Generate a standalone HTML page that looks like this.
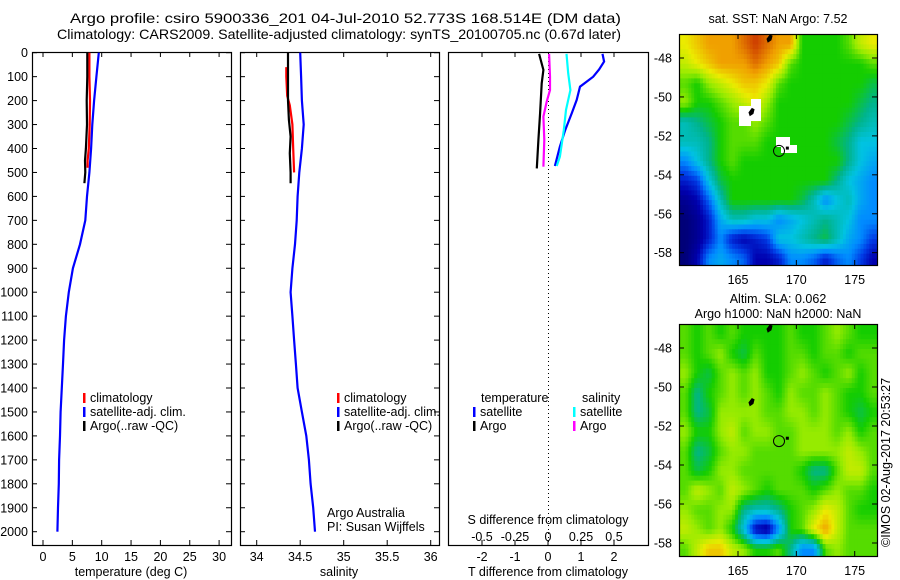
<!DOCTYPE html>
<html><head><meta charset="utf-8"><style>
html,body{margin:0;padding:0;background:#fff;}
svg{display:block;font-family:"Liberation Sans",sans-serif;}
text{font-size:12.5px;fill:#000;}
</style></head><body>
<svg id="fig" width="900" height="580" viewBox="0 0 900 580" xmlns="http://www.w3.org/2000/svg">
<defs>
<clipPath id="clipMap1"><rect x="679" y="34" width="198" height="231"/></clipPath>
<clipPath id="clipMap2"><rect x="679" y="324" width="198" height="232"/></clipPath>
</defs>
<text x="70" y="23" style="font-size:14px" textLength="551" lengthAdjust="spacingAndGlyphs">Argo profile: csiro 5900336_201 04-Jul-2010 52.773S 168.514E (DM data)</text>
<text x="57" y="39" style="font-size:14px" textLength="564" lengthAdjust="spacingAndGlyphs">Climatology: CARS2009. Satellite-adjusted climatology: synTS_20100705.nc (0.67d later)</text>
<text x="778" y="23" text-anchor="middle">sat. SST: NaN Argo: 7.52</text>
<text x="778" y="303" text-anchor="middle">Altim. SLA: 0.062</text>
<text x="778" y="318" text-anchor="middle">Argo h1000: NaN h2000: NaN</text>
<text transform="translate(890,547) rotate(-90)">©IMOS 02-Aug-2017 20:53:27</text>
<g id="layer"></g>
</svg>
<script>
// ---- profile data ----
const depthsSat = [0,100,200,300,400,500,600,700,800,900,1000,1100,1200,1300,1400,1500,1600,1700,1800,1900,2000];
const tempSat = [9.5,9.1,8.7,8.4,8.2,7.9,7.5,7.2,6.3,5.1,4.4,3.9,3.6,3.4,3.2,3.0,2.9,2.75,2.7,2.55,2.45];
const salSat = [34.50,34.51,34.52,34.54,34.52,34.49,34.47,34.46,34.44,34.41,34.39,34.41,34.43,34.45,34.47,34.52,34.57,34.60,34.62,34.65,34.67];
const depthsClimT = [0,100,200,300,400,450,480];
const tempClim = [7.9,7.9,8.0,7.95,7.8,7.6,7.6];
const depthsArgoT = [0,100,200,300,400,450,500,545];
const tempArgo = [7.55,7.55,7.45,7.5,7.3,7.15,7.2,7.05];
const depthsClimS = [60,100,180,220,300,400,500];
const salClim = [34.34,34.34,34.35,34.38,34.41,34.42,34.43];
const depthsArgoS = [0,100,200,280,350,420,500,545];
const salArgo = [34.36,34.36,34.36,34.37,34.39,34.38,34.39,34.39];
const depthsDT = [5,37,70,100,142,197,252,323,392,473];
const dTsat = [1.65,1.70,1.55,1.37,0.97,0.87,0.72,0.52,0.36,0.21];
const depthsDS = [5,86,156,239,323,434,473];
const dSsat = [0.14,0.153,0.17,0.136,0.12,0.09,0.066];
const depthsDA = [5,72,128,252,364,483];
const dTargo = [-0.27,-0.14,-0.19,-0.24,-0.29,-0.34];
const depthsDSA = [5,100,156,204,267,364,476];
const dSargo = [0.008,0.015,0.015,-0.01,-0.035,-0.028,-0.035];
const depthTicks = [0,100,200,300,400,500,600,700,800,900,1000,1100,1200,1300,1400,1500,1600,1700,1800,1900,2000];
const tempTicks = [0,5,10,15,20,25,30];
const salTicks = ["34","34.5","35","35.5","36"];
const dTTicks = ["-2","-1","0","1","2"];
const dSTicks = ["-0.5","-0.25","0","0.25","0.5"];
// ---- map data (colour index 0..10, rows from -46.8 lat downward 1deg, cols lon 160..176) ----
const mapLons = [160,161,162,163,164,165,166,167,168,169,170,171,172,173,174,175,176];
const latTicks = [-48,-50,-52,-54,-56,-58];
const lonTicks = [165,170,175];
const sstGrid = [
[8,8.5,9,9,9,9.5,10,9.5,9,9,6,6,6,6,6.5,7.5,8],
[7.5,8,8.5,9,9,9,9.5,9,8.5,6.5,6,6,6,6,6,6,6.5],
[6.5,6,7,7.5,8,8.5,8.5,8,6.5,6,6,6,6,6,6,6,5.5],
[7,6,6,6.5,7,7.5,8,7,6,6,6,6,6,6,6,5.5,5],
[4.5,5,5.5,6,6.5,6.5,7,6.5,6,6,6,6,6,6,5.5,5,4.5],
[4.5,4.5,5,6,6.5,6.5,6.5,6,6,6,6,6,6,5.5,5,4,4],
[3,4,5,6,6.5,6,6,6,6,6,6,6,6,6,5,4,3.5],
[1.5,2,4,5.5,6,6,6,6,6,6,6,6,6,5,4,3.5,3],
[0.5,1,2.5,4.5,6,6,6,6,6,6,5.5,4.5,3,4,4.5,3.5,3],
[0,0.5,1.5,3.5,4.5,4.5,4,4,3,3.5,4,4.5,5,4.5,4,3,3],
[0,0.5,1.5,3,1.5,1,1.5,2,4,4,4.5,5,5.5,4.5,3.5,3,2],
[0,1,3,3.5,3,2.5,1,1,1.5,3,3,2.5,1.5,2.5,3,2,1]];
const slaGrid = [
[6.5,6,6.5,6,6.5,6,6,6,6,6.5,6,6,6.5,7,6.5,6,6],
[6.5,6,6.5,7,6,5.5,6.5,6,6,6.5,6.5,6,6.5,6.5,6,6.5,6.5],
[7,6,5.5,6.5,7,6.5,7,6,6,6.5,7,6.5,6,6.5,7,6,6.5],
[6.5,5,6,6.5,7,6.5,7,6.5,6,7,6.5,6.5,7,6.5,6,6,6.5],
[6.5,5,5.5,7,7,7,7,6.5,6.5,7,7,6.5,7,6.5,6,5.5,6],
[7,6,6,7,7.5,6.5,7,7,6.5,6.5,7,7,7,6.5,7,6,6.5],
[6.5,5,5.5,6.5,7,7,6.5,6.5,6.5,6.5,7,7,7,7,7.5,7,6.5],
[6.5,5.5,6,7,7,6.5,6.5,6.5,6.5,6.5,6,5,5,6.5,7.5,7.5,6.5],
[6.5,7.5,7,6.5,7.5,7,6.5,6,6.5,6.5,6.5,6,6.5,7,6.5,6.5,6],
[7,6.5,6.5,7,7,5,4.5,4.5,5,6,6.5,7,8,7.5,6.5,6,6],
[7.5,7,6.5,7,6,4,1,0.5,3,6,6.5,8,9,7.5,6.5,6.5,6.5],
[6.5,7.5,8.5,8.5,7.5,7,6,6,6.5,5,3,3,6.5,7,6.5,6.5,6.5]];

const NS = "http://www.w3.org/2000/svg";
const layer = document.getElementById('layer');
function mk(tag, attrs, parent){ const e=document.createElementNS(NS,tag); for(const k in attrs) e.setAttribute(k,attrs[k]); (parent||layer).appendChild(e); return e; }
const yD = d => 52.7 + d*0.2395;
const xT = t => 43 + t*5.87;
const xS = s => 256.7 + (s-34)*87;
const xdT = t => 548 + 33*t;
const xdS = s => 548 + 132*s;
const lonX = l => 738 + (l-165)*11.67;
const latY1 = la => 58 + (-48-la)*19.47;
const latY2 = la => 348 + (-48-la)*19.5;

function stepLine(xs, ds, xf, color, name){
  let pts=[];
  for(let i=0;i<xs.length;i++){ pts.push(xf(xs[i]).toFixed(1)+','+yD(ds[i]).toFixed(1)); }
  const p = mk('polyline',{points:pts.join(' '),fill:'none',stroke:color,'stroke-width':2.2});
  
  
}
function frame(x0,x1,y0,y1,name){
  const r = mk('rect',{x:x0+0.5,y:y0+0.5,width:x1-x0,height:y1-y0,fill:'none',stroke:'#000','stroke-width':1.2});
  
  
}
function txt(x,y,s,anchor,name){
  const t = mk('text',{x:x,y:y,'text-anchor':anchor||'start'}); t.textContent=s;
  
  
  return t;
}
function tick(x1,y1,x2,y2){ mk('line',{x1:x1,y1:y1,x2:x2,y2:y2,stroke:'#000','stroke-width':1}); }

const panels = [[32,231],[240,439],[448,648]];
panels.forEach((p,i)=>frame(p[0],p[1],52,545,'profile-panel-'+(i+1)+'-frame'));
depthTicks.forEach(d=>{
  const y=yD(d);
  tick(32,y,37,y); tick(226,y,231,y);
  tick(240,y,245,y); tick(434,y,439,y);
  txt(28,y+4.5,String(d),'end','depth-tick-label');
});
tempTicks.forEach(t=>{ const x=xT(t); tick(x,545,x,540); tick(x,52,x,57); txt(x,561,String(t),'middle','temperature-tick-label'); });
salTicks.forEach(s=>{ const x=xS(parseFloat(s)); tick(x,545,x,540); tick(x,52,x,57); txt(x,561,s,'middle','salinity-tick-label'); });
dTTicks.forEach(s=>{ const x=xdT(parseFloat(s)); tick(x,545,x,540); if(s!=="0") tick(x,52,x,57); txt(x,561,s,'middle','t-difference-tick-label'); });
dSTicks.forEach(s=>{ const x=xdS(parseFloat(s)); txt(x,541,s,'middle','s-difference-tick-label'); });
txt(131,576,'temperature (deg C)','middle','temperature-axis-title');
txt(339,576,'salinity','middle','salinity-axis-title');
txt(548,576,'T difference from climatology','middle','t-difference-axis-title');
txt(548,524,'S difference from climatology','middle','s-difference-axis-title');
const zl = mk('line',{x1:548.5,y1:53,x2:548.5,y2:545,stroke:'#000','stroke-width':1,'stroke-dasharray':'1,3'});



stepLine(tempSat, depthsSat, xT, '#0000ff', 'temperature-satellite-line');
stepLine(tempClim, depthsClimT, xT, '#ff0000', 'temperature-climatology-line');
stepLine(tempArgo, depthsArgoT, xT, '#000000', 'temperature-argo-line');
stepLine(salSat, depthsSat, xS, '#0000ff', 'salinity-satellite-line');
stepLine(salClim, depthsClimS, xS, '#ff0000', 'salinity-climatology-line');
stepLine(salArgo, depthsArgoS, xS, '#000000', 'salinity-argo-line');
stepLine(dTsat, depthsDT, xdT, '#0000ff', 't-diff-satellite-line');
stepLine(dSsat, depthsDS, xdS, '#00ffff', 's-diff-satellite-line');
stepLine(dTargo, depthsDA, xdT, '#000000', 't-diff-argo-line');
stepLine(dSargo, depthsDSA, xdS, '#ff00ff', 's-diff-argo-line');

function legend(x,y,color,label,name){
  const m = mk('rect',{x:x,y:y-9,width:2.5,height:10,fill:color});
  
  
  txt(x+7,y,label,'start',name);
}
[[83,'p1'],[337,'p2']].forEach(([x,p])=>{
  legend(x,402,'#ff0000','climatology',p+'-legend-climatology');
  legend(x,416,'#0000ff','satellite-adj. clim.',p+'-legend-satellite');
  legend(x,430,'#000000','Argo(..raw -QC)',p+'-legend-argo');
});
txt(481,402,'temperature','start','legend-temperature-heading');
txt(582,402,'salinity','start','legend-salinity-heading');
legend(473,416,'#0000ff','satellite','legend-t-satellite');
legend(473,430,'#000000','Argo','legend-t-argo');
legend(573,416,'#00ffff','satellite','legend-s-satellite');
legend(573,430,'#ff00ff','Argo','legend-s-argo');
txt(327,517,'Argo Australia','start','credit-argo-australia');
txt(327,531,'PI: Susan Wijffels','start','credit-pi');

const cstops = [[0,[0,0,120]],[1,[0,0,175]],[2,[0,60,230]],[3,[0,140,255]],[4,[0,195,225]],[5,[0,180,140]],[6,[20,205,0]],[7,[150,235,0]],[8,[235,235,0]],[9,[240,160,0]],[10,[205,60,0]]];
function cmap(v){
  v=Math.max(0,Math.min(10,v)); const i=Math.min(9,Math.floor(v)); const f=v-i;
  const a=cstops[i][1], b=cstops[i+1][1];
  return 'rgb('+a.map((c,k)=>Math.round(c+(b[k]-c)*f)).join(',')+')';
}
// bilinear sample of grid at fractional (row, col) measured in cell-centre coordinates
function sample(grid, r, c){
  const R=grid.length, C=grid[0].length;
  r=Math.max(0,Math.min(R-1,r)); c=Math.max(0,Math.min(C-1,c));
  const r0=Math.floor(r), c0=Math.floor(c), r1=Math.min(R-1,r0+1), c1=Math.min(C-1,c0+1);
  const fr=r-r0, fc=c-c0;
  const top=grid[r0][c0]*(1-fc)+grid[r0][c1]*fc, bot=grid[r1][c0]*(1-fc)+grid[r1][c1]*fc;
  return top*(1-fr)+bot*fr;
}
function drawMap(grid, latY, y0, y1, clipId, name){
  const g = mk('g',{'clip-path':'url(#'+clipId+')'});
  
  
  const SUB=4, R=grid.length, C=grid[0].length;
  for(let i=0;i<R*SUB;i++){
    for(let j=0;j<C*SUB;j++){
      const rr=(i+0.5)/SUB-0.5, cc=(j+0.5)/SUB-0.5;
      const v=sample(grid, rr, cc);
      let top = latY(-46.8 - i/SUB), bot = latY(-46.8 - (i+1)/SUB);
      if(i===0) top = y0-2;
      if(i===R*SUB-1) bot = y1+2;
      const x0 = lonX(mapLons[0] + j/SUB), x1 = lonX(mapLons[0] + (j+1)/SUB);
      const cell = mk('rect',{x:x0.toFixed(1),y:top.toFixed(1),width:(x1-x0+0.5).toFixed(1),height:(bot-top+0.5).toFixed(1),fill:cmap(v)}, g);
      
      
    }
  }
  frame(679,877,y0,y1,name+'-frame');
  latTicks.forEach(la=>{ const y=latY(la); tick(679,y,684,y); tick(872,y,877,y); txt(672,y+4.5,String(la),'end','latitude-tick-label'); });
  lonTicks.forEach(lo=>{ const x=lonX(lo); tick(x,y0,x,y0+5); tick(x,y1,x,y1-5); txt(x,y1+19,String(lo),'middle','longitude-tick-label'); });
}
drawMap(sstGrid, latY1, 34, 265, 'clipMap1', 'sst-map');
drawMap(slaGrid, latY2, 324, 556, 'clipMap2', 'sla-map');
[[739,106,12,20],[751,99,10,22],[776,137,14,10],[781,145,16,8]].forEach(r=>{
  const w = mk('rect',{x:r[0],y:r[1],width:r[2],height:r[3],fill:'#fff'});
  
  
});
[[latY1,34],[latY2,324]].forEach(([ly,y0],i)=>{
  [[767,y0+5],[749,ly(-50.8)]].forEach(p=>{
    const isl = mk('path',{d:'M'+p[0]+' '+p[1]+' l3 -4 l2 1 l-1 4 l-3 2 z',fill:'#000',stroke:'#000','stroke-width':1});
    
    
  });
  const c = mk('circle',{cx:lonX(168.514),cy:ly(-52.773),r:5.5,fill:'none',stroke:'#000','stroke-width':1});
  
  
  const d = mk('rect',{x:lonX(169.1),y:ly(-52.55),width:3,height:3,fill:'#000'});
  
  
});
</script>
</body></html>
